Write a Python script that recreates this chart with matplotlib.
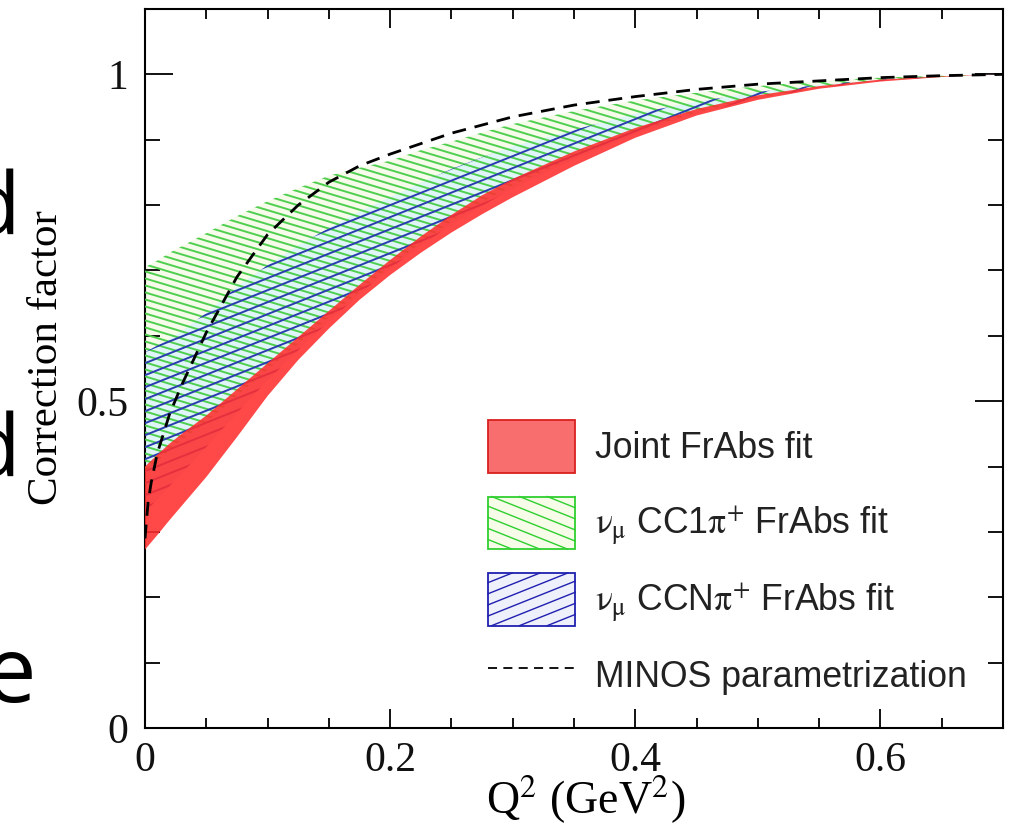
import numpy as np
import matplotlib
matplotlib.use("Agg")
import matplotlib.pyplot as plt
from matplotlib.path import Path
from matplotlib.collections import LineCollection
from matplotlib.patches import Rectangle
from matplotlib.lines import Line2D
from matplotlib.legend_handler import HandlerBase
from matplotlib.ticker import MultipleLocator, FixedLocator, FixedFormatter

# Q2 grid (GeV^2) for the bands
q2 = [0, 0.01, 0.02, 0.03, 0.05, 0.075, 0.1, 0.125, 0.15, 0.175, 0.2, 0.225,
      0.25, 0.275, 0.3, 0.35, 0.4, 0.45, 0.5, 0.55, 0.6, 0.65, 0.7]

# Joint FrAbs fit band
joint_lo = [0.273, 0.295, 0.318, 0.34, 0.384, 0.445, 0.508, 0.563, 0.611, 0.655, 0.693, 0.727,
            0.758, 0.786, 0.812, 0.86, 0.903, 0.937, 0.961, 0.978, 0.989, 0.996, 1.0]
joint_hi = [0.40, 0.418, 0.435, 0.45, 0.478, 0.518, 0.558, 0.598, 0.638, 0.678, 0.716, 0.752,
            0.785, 0.815, 0.84, 0.882, 0.918, 0.947, 0.968, 0.982, 0.992, 0.997, 1.0]

# nu_mu CC1pi+ FrAbs fit band
cc1pi_lo = [0.39, 0.408, 0.425, 0.44, 0.468, 0.508, 0.548, 0.588, 0.628, 0.668, 0.706, 0.742,
            0.775, 0.805, 0.83, 0.874, 0.912, 0.942, 0.964, 0.98, 0.991, 0.996, 1.0]
cc1pi_hi = [0.705, 0.715, 0.727, 0.737, 0.757, 0.783, 0.806, 0.826, 0.845, 0.857, 0.868, 0.884,
            0.897, 0.911, 0.924, 0.944, 0.96, 0.972, 0.982, 0.99, 0.995, 0.998, 1.0]

# nu_mu CCNpi+ FrAbs fit band
ccnpi_lo = [0.33, 0.35, 0.37, 0.39, 0.43, 0.482, 0.532, 0.578, 0.622, 0.664, 0.703, 0.738,
            0.77, 0.799, 0.825, 0.87, 0.909, 0.94, 0.963, 0.979, 0.99, 0.996, 1.0]
ccnpi_hi = [0.575, 0.585, 0.595, 0.607, 0.635, 0.675, 0.708, 0.738, 0.765, 0.79, 0.812, 0.834,
            0.855, 0.873, 0.89, 0.915, 0.94, 0.958, 0.973, 0.984, 0.992, 0.997, 1.0]

# MINOS parametrization
minos_q2 = [0, 0.0025, 0.005, 0.01, 0.02, 0.03, 0.05, 0.075, 0.1, 0.125, 0.15, 0.175,
            0.2, 0.25, 0.3, 0.35, 0.4, 0.45, 0.5, 0.55, 0.6, 0.65, 0.7]
minos = [0.29, 0.345, 0.375, 0.42, 0.48, 0.525, 0.605, 0.69, 0.755, 0.80, 0.835, 0.86,
         0.878, 0.91, 0.935, 0.953, 0.966, 0.977, 0.985, 0.99, 0.995, 0.998, 1.0]

labels = ["Joint FrAbs fit",
          r"$\mathrm{\nu}_{\mathrm{\mu}}$ CC1$\mathrm{\pi}^{+}$ FrAbs fit",
          r"$\mathrm{\nu}_{\mathrm{\mu}}$ CCN$\mathrm{\pi}^{+}$ FrAbs fit",
          "MINOS parametrization"]

plt.rcParams["mathtext.fontset"] = "stix"

W, H = 1011, 832
fig = plt.figure(figsize=(W / 100, H / 100), dpi=100)
ax = fig.add_axes([145 / W, 1 - 728 / H, 858 / W, 719 / H])


def hatch_band(ax, x, lo, hi, color, slope_px, step_px, lw):
    """Draw slanted hatch lines clipped to the band between lo and hi."""
    w = ax.get_position().width * W
    h = ax.get_position().height * H
    s = slope_px * w / h
    step = step_px / h
    offs = np.arange(-abs(s) - step, 1 + abs(s) + step, step)
    segs = [[(0, c), (1, c + s)] for c in offs]
    lc = LineCollection(segs, colors=color, linewidths=lw, transform=ax.transAxes, zorder=3)
    verts = np.column_stack([np.r_[x, x[::-1]], np.r_[hi, lo[::-1]]])
    lc.set_clip_path(Path(verts), ax.transData)
    ax.add_collection(lc, autolim=False)


x = np.array(q2)
ax.fill_between(x, cc1pi_lo, cc1pi_hi, facecolor="#f6fbea", edgecolor="none", zorder=1)
ax.fill_between(x, ccnpi_lo, ccnpi_hi, facecolor="#dff5f7", edgecolor="none", zorder=2)
hatch_band(ax, x, np.array(cc1pi_lo), np.array(cc1pi_hi), "#4fcf4f", -0.3, 7.0, 1.4)
hatch_band(ax, x, np.array(ccnpi_lo), np.array(ccnpi_hi), "#2b3cb0", 0.4, 12.0, 1.4)
ax.fill_between(x, joint_lo, joint_hi, facecolor="#ff2e2e", edgecolor="none", alpha=0.88, zorder=4)
ax.plot(minos_q2, minos, color="black", lw=2.0, dashes=(5, 3.2), zorder=5)

ax.set_xlim(0, 0.7)
ax.set_ylim(0, 1.1)

ax.xaxis.set_major_locator(FixedLocator([0, 0.2, 0.4, 0.6]))
ax.xaxis.set_major_formatter(FixedFormatter(["0", "0.2", "0.4", "0.6"]))
ax.xaxis.set_minor_locator(MultipleLocator(0.05))
ax.yaxis.set_major_locator(FixedLocator([0, 0.5, 1.0]))
ax.yaxis.set_major_formatter(FixedFormatter(["0", "0.5", "1"]))
ax.yaxis.set_minor_locator(MultipleLocator(0.1))

ax.tick_params(axis="both", which="both", direction="in", top=True, right=True,
               width=1.4, colors="#111111")
ax.tick_params(axis="x", which="major", length=14, pad=10, labelsize=30)
ax.tick_params(axis="x", which="minor", length=7.5)
ax.tick_params(axis="y", which="major", length=20, pad=12, labelsize=30)
ax.tick_params(axis="y", which="minor", length=11)
for lab in ax.get_xticklabels() + ax.get_yticklabels():
    lab.set_fontfamily("Liberation Serif")
for sp in ax.spines.values():
    sp.set_linewidth(1.5)

ax.set_ylabel("Correction factor", fontsize=31, family="Liberation Serif")
ax.yaxis.set_label_coords(-0.092, 0.515)
ax.set_xlabel(r"Q$^{2}$ (GeV$^{2}$)", fontsize=33, family="Liberation Serif")
ax.xaxis.set_label_coords(0.514, -0.064)


class HatchBox(HandlerBase):
    def __init__(self, face, edge, slope, step):
        super().__init__()
        self.face, self.edge, self.slope, self.step = face, edge, slope, step

    def create_artists(self, legend, orig_handle, xdescent, ydescent, width, height, fontsize, trans):
        x0, y0 = -xdescent, -ydescent
        arts = [Rectangle((x0, y0), width, height, facecolor=self.face, edgecolor=self.edge,
                          lw=1.3, transform=trans)]
        if self.slope:
            s = self.slope
            for c in np.arange(-width * abs(s), height + width * abs(s), self.step):
                if s > 0:
                    xl, xh = max(0, -c / s), min(width, (height - c) / s)
                else:
                    xl, xh = max(0, (height - c) / s), min(width, -c / s)
                if xh > xl:
                    arts.append(Line2D([x0 + xl, x0 + xh], [y0 + c + s * xl, y0 + c + s * xh],
                                       color=self.edge, lw=1.0, transform=trans))
        return arts


h_joint = Rectangle((0, 0), 1, 1)
h_cc1 = Rectangle((0, 0), 1, 1)
h_ccn = Rectangle((0, 0), 1, 1)
h_minos = Line2D([], [], color="black", lw=1.3, dashes=(5, 3.5))

leg = ax.legend([h_joint, h_cc1, h_ccn, h_minos], labels,
                handler_map={h_joint: HatchBox("#f86d6d", "#d92020", 0, 0),
                             h_cc1: HatchBox("#f6fce8", "#2fcf2f", -0.4, 8.0),
                             h_ccn: HatchBox("#eef0fb", "#2020b0", 0.4, 8.0)},
                loc="upper left", bbox_to_anchor=(488 / W, 1 - 420 / H),
                bbox_transform=fig.transFigure, frameon=False,
                prop={"family": "Liberation Sans", "size": 25.7},
                handlelength=2.44, handleheight=1.89, handletextpad=0.56,
                labelspacing=0.67, borderpad=0, borderaxespad=0)
for t in leg.get_texts():
    t.set_color("#222222")

# slide text cut off at the left edge
fig.text(20 / W, 1 - 234 / H, "d", fontsize=62, family="Open Sans", ha="right", va="baseline")
fig.text(20 / W, 1 - 476 / H, "d", fontsize=62, family="Open Sans", ha="right", va="baseline")
fig.text(36 / W, 1 - 702 / H, "e", fontsize=66, family="Open Sans", ha="right", va="baseline")

fig.savefig("out.png", dpi=100)
